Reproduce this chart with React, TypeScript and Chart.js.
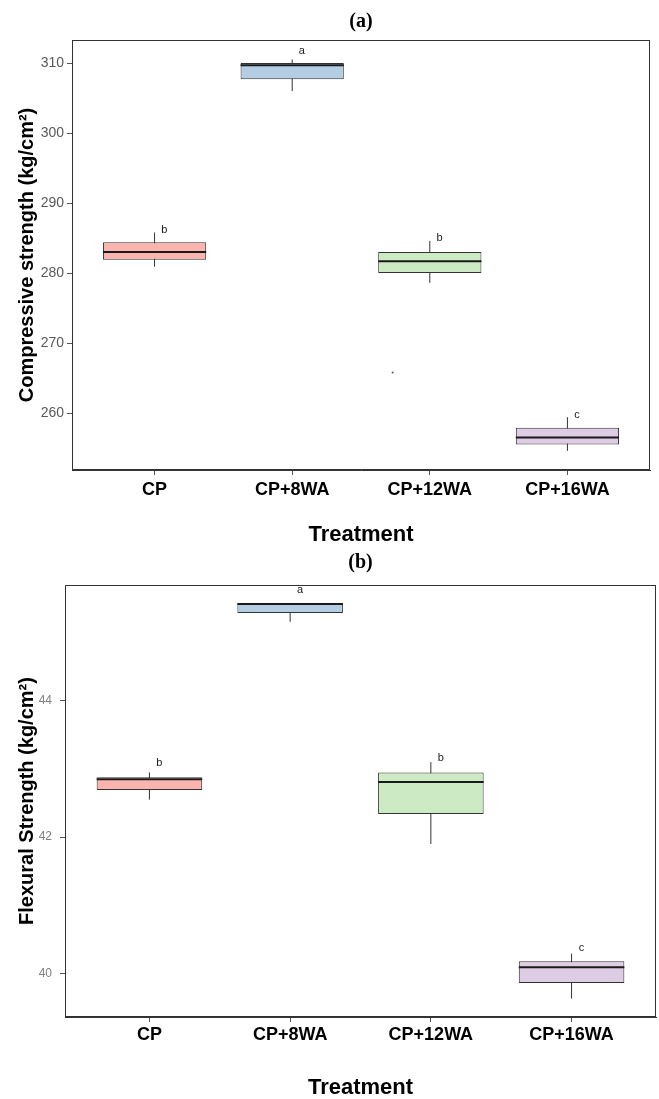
import React, { useEffect, useRef } from 'react';
import { Chart, registerables } from 'chart.js';

Chart.register(...registerables);

// ---------- shared ----------
const categories = ['CP', 'CP+8WA', 'CP+12WA', 'CP+16WA'];
const boxColors = ['#FBB4AE', '#B3CDE3', '#CCEBC5', '#DECBE4'];

// ---------- (a) Compressive strength ----------
const compMin = [280.9, 306.0, 278.6, 254.6];
const compQ1 = [281.9, 307.7, 280.0, 255.5];
const compMedian = [283.0, 309.7, 281.7, 256.5];
const compQ3 = [284.4, 310.0, 283.0, 257.9];
const compMax = [285.8, 310.5, 284.6, 259.4];
const compLetters = ['b', 'a', 'b', 'c'];
const compLetterY = [286.1, 311.8, 285.0, 259.7];
const compOutlierX = [2.73];
const compOutlierY = [265.8];
const compTicks = [260, 270, 280, 290, 300, 310];

// ---------- (b) Flexural strength ----------
const flexMin = [42.55, 45.16, 41.9, 39.63];
const flexQ1 = [42.69, 45.29, 42.34, 39.86];
const flexMedian = [42.85, 45.42, 42.81, 40.09];
const flexQ3 = [42.88, 45.43, 42.95, 40.18];
const flexMax = [42.95, 45.43, 43.1, 40.29];
const flexLetters = ['b', 'a', 'b', 'c'];
const flexLetterY = [43.09, 45.62, 43.16, 40.37];
const flexTicks = [40, 42, 44];

const BOX_WIDTH = 0.75;
const LETTER_SHIFT = 0.07;
const SANS = 'Liberation Sans, Arial, sans-serif';
const SERIF = 'Liberation Serif, Times New Roman, serif';

type PanelCfg = {
  title: string;
  titlePad: { top: number; bottom: number };
  yTitle: string;
  yMin: number;
  yMax: number;
  yTicks: number[];
  yTickFont: number;
  yTickColor: string;
  yTickPad: number;
  yWidth: number;
  xHeight: number;
  xTickPad: number;
  xTitlePadBottom: number;
  rightPad: number;
  height: number;
  min: number[];
  q1: number[];
  med: number[];
  q3: number[];
  max: number[];
  letters: string[];
  letterY: number[];
  outX?: number[];
  outY?: number[];
};

const borderPlugin = {
  id: 'panelBorder',
  afterDatasetsDraw(chart: any) {
    const { ctx, chartArea } = chart;
    ctx.save();
    ctx.strokeStyle = '#333333';
    ctx.lineWidth = 1;
    const l = Math.round(chartArea.left) + 0.5;
    const t = Math.round(chartArea.top) + 0.5;
    const r = Math.round(chartArea.right) - 0.5;
    const b = Math.round(chartArea.bottom) - 0.5;
    ctx.strokeRect(l, t, r - l, b - t);
    ctx.restore();
  },
};

const lettersPlugin = {
  id: 'sigLetters',
  afterDatasetsDraw(chart: any, _args: any, opts: any) {
    const { ctx, scales } = chart;
    const letters: string[] = opts.letters || [];
    const ys: number[] = opts.y || [];
    ctx.save();
    ctx.font = `11px ${SANS}`;
    ctx.fillStyle = '#1a1a1a';
    ctx.textAlign = 'center';
    ctx.textBaseline = 'middle';
    letters.forEach((t, i) => {
      const px = scales.x.getPixelForValue(i + 1 + LETTER_SHIFT);
      const py = scales.y.getPixelForValue(ys[i]);
      ctx.fillText(t, px, py);
    });
    ctx.restore();
  },
};

function Panel({ cfg }: { cfg: PanelCfg }) {
  const ref = useRef<HTMLCanvasElement | null>(null);
  useEffect(() => {
    if (!ref.current) return;
    const datasets: any[] = [];
    categories.forEach((_, i) => {
      datasets.push({
        type: 'line',
        data: [
          { x: i + 1, y: cfg.min[i] },
          { x: i + 1, y: cfg.max[i] },
        ],
        borderColor: '#333333',
        borderWidth: 1,
        pointRadius: 0,
        fill: false,
        order: 3,
      });
    });
    datasets.push({
      type: 'bar',
      data: categories.map((_, i) => ({ x: i + 1, y: [cfg.q1[i], cfg.q3[i]] })),
      backgroundColor: boxColors,
      borderColor: '#333333',
      borderWidth: 1,
      borderSkipped: false,
      categoryPercentage: 1,
      barPercentage: BOX_WIDTH,
      order: 2,
    });
    categories.forEach((_, i) => {
      datasets.push({
        type: 'line',
        data: [
          { x: i + 1 - BOX_WIDTH / 2, y: cfg.med[i] },
          { x: i + 1 + BOX_WIDTH / 2, y: cfg.med[i] },
        ],
        borderColor: '#1a1a1a',
        borderWidth: 2,
        pointRadius: 0,
        fill: false,
        order: 1,
      });
    });
    if (cfg.outX && cfg.outY) {
      datasets.push({
        type: 'line',
        data: cfg.outX.map((x, i) => ({ x, y: cfg.outY![i] })),
        showLine: false,
        pointRadius: 1,
        pointBorderWidth: 0,
        pointBackgroundColor: '#555555',
        order: 0,
      });
    }

    const chart = new Chart(ref.current, {
      type: 'bar',
      data: { datasets },
      plugins: [borderPlugin, lettersPlugin],
      options: {
        responsive: false,
        animation: false,
        devicePixelRatio: 1,
        events: [],
        layout: { padding: { left: 0, right: cfg.rightPad, top: 0, bottom: 0 } },
        plugins: {
          legend: { display: false },
          tooltip: { enabled: false },
          title: {
            display: true,
            text: cfg.title,
            color: '#000000',
            font: { family: SERIF, size: 20, weight: 'bold', lineHeight: 1.2 },
            padding: cfg.titlePad,
            fullSize: false,
          },
          sigLetters: { letters: cfg.letters, y: cfg.letterY },
        } as any,
        scales: {
          x: {
            type: 'linear',
            min: 0.4,
            max: 4.6,
            offset: false,
            grid: {
              offset: false,
              drawOnChartArea: false,
              drawTicks: true,
              tickLength: 5,
              tickColor: '#555555',
            },
            border: { display: true, color: '#333333', width: 1 },
            afterBuildTicks: (s: any) => {
              s.ticks = categories.map((_, i) => ({ value: i + 1 }));
            },
            ticks: {
              autoSkip: false,
              maxRotation: 0,
              minRotation: 0,
              padding: cfg.xTickPad,
              color: '#000000',
              font: { family: SANS, size: 18, weight: 'bold', lineHeight: 1.2 },
              callback: (v: any) => categories[Math.round(Number(v)) - 1] ?? '',
            },
            title: {
              display: true,
              text: 'Treatment',
              color: '#000000',
              font: { family: SANS, size: 22, weight: 'bold', lineHeight: 1 },
              padding: { top: 0, bottom: cfg.xTitlePadBottom },
            },
            afterFit: (s: any) => {
              s.height = cfg.xHeight;
            },
          },
          y: {
            type: 'linear',
            min: cfg.yMin,
            max: cfg.yMax,
            grid: {
              drawOnChartArea: false,
              drawTicks: true,
              tickLength: 5,
              tickColor: '#555555',
            },
            border: { display: true, color: '#333333', width: 1 },
            afterBuildTicks: (s: any) => {
              s.ticks = cfg.yTicks.map((v) => ({ value: v }));
            },
            ticks: {
              padding: cfg.yTickPad,
              color: cfg.yTickColor,
              font: { family: SANS, size: cfg.yTickFont },
              callback: (v: any) => String(v),
            },
            title: {
              display: true,
              text: cfg.yTitle,
              color: '#000000',
              font: { family: SANS, size: 20, weight: 'bold', lineHeight: 1.2 },
              padding: { top: 15, bottom: 0 },
            },
            afterFit: (s: any) => {
              s.width = cfg.yWidth;
            },
          },
        },
      } as any,
    });
    return () => chart.destroy();
  }, [cfg]);
  return (
    <div style={{ width: 659, height: cfg.height }}>
      <canvas ref={ref} width={659} height={cfg.height} style={{ display: 'block', width: 659, height: cfg.height }} />
    </div>
  );
}

const panelA: PanelCfg = {
  title: '(a)',
  titlePad: { top: 10, bottom: 6 },
  yTitle: 'Compressive strength (kg/cm²)',
  yMin: 251.86,
  yMax: 313.3,
  yTicks: compTicks,
  yTickFont: 14,
  yTickColor: '#595959',
  yTickPad: 3,
  yWidth: 72,
  xHeight: 80,
  xTickPad: 4,
  xTitlePadBottom: 4,
  rightPad: 9,
  height: 550,
  min: compMin,
  q1: compQ1,
  med: compMedian,
  q3: compQ3,
  max: compMax,
  letters: compLetters,
  letterY: compLetterY,
  outX: compOutlierX,
  outY: compOutlierY,
};

const panelB: PanelCfg = {
  title: '(b)',
  titlePad: { top: 1, bottom: 10 },
  yTitle: 'Flexural Strength (kg/cm²)',
  yMin: 39.36,
  yMax: 45.7,
  yTicks: flexTicks,
  yTickFont: 12,
  yTickColor: '#7f7f7f',
  yTickPad: 8,
  yWidth: 65,
  xHeight: 82,
  xTickPad: 2,
  xTitlePadBottom: 0,
  rightPad: 3,
  height: 549,
  min: flexMin,
  q1: flexQ1,
  med: flexMedian,
  q3: flexQ3,
  max: flexMax,
  letters: flexLetters,
  letterY: flexLetterY,
};

export default function App() {
  useEffect(() => {
    document.body.style.margin = '0';
    document.body.style.background = '#ffffff';
  }, []);
  return (
    <div style={{ width: 659, background: '#ffffff' }}>
      <Panel cfg={panelA} />
      <Panel cfg={panelB} />
    </div>
  );
}
